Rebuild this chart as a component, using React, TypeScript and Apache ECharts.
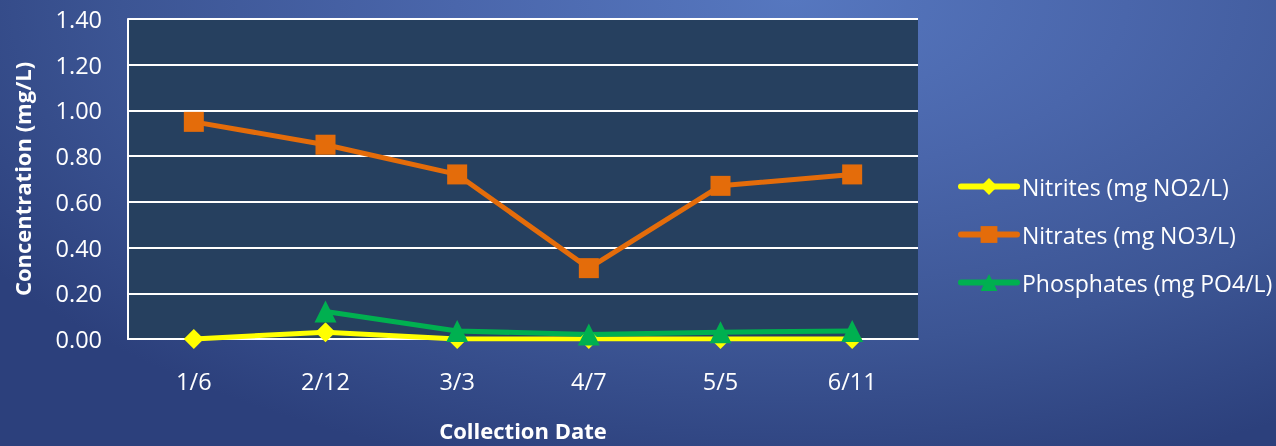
import React, { useEffect, useRef } from "react";
import * as echarts from "echarts";

const categories = ["1/6", "2/12", "3/3", "4/7", "5/5", "6/11"];
const nitrites = [0.0, 0.03, 0.0, 0.0, 0.0, 0.0];
const nitrates = [0.95, 0.85, 0.72, 0.31, 0.67, 0.72];
const phosphates: (number | null)[] = [null, 0.12, 0.035, 0.02, 0.03, 0.035];
const seriesNames = ["Nitrites (mg NO2/L)", "Nitrates (mg NO3/L)", "Phosphates (mg PO4/L)"];

const FONT = "'Open Sans', Lato, sans-serif";

export default function App() {
  const ref = useRef<HTMLDivElement>(null);
  useEffect(() => {
    if (!ref.current) return;
    const chart = echarts.init(ref.current, undefined, { renderer: "svg" });
    chart.setOption({
      animation: false,
      textStyle: { fontFamily: FONT },
      grid: {
        left: 128,
        top: 19,
        width: 790,
        height: 320,
        show: true,
        backgroundColor: "#26405f",
        borderWidth: 0,
        containLabel: false,
        outerBoundsMode: "none",
      },
      legend: {
        orient: "vertical",
        left: 958,
        top: 175,
        padding: 0,
        itemWidth: 56,
        itemHeight: 21,
        itemGap: 25,
        lineStyle: { width: 6, cap: "round" },
        textStyle: { color: "#ffffff", fontSize: 23, fontFamily: FONT, padding: [0, 0, 0, 0] },
        data: seriesNames,
      },
      xAxis: {
        type: "category",
        data: categories,
        boundaryGap: true,
        name: "Collection Date",
        nameLocation: "middle",
        nameGap: 80,
        nameMoveOverlap: false,
        nameTextStyle: { color: "#ffffff", fontSize: 22, fontWeight: "bold", fontFamily: FONT },
        axisLine: { show: true, lineStyle: { color: "#ffffff", width: 2 } },
        axisTick: { show: false },
        axisLabel: { color: "#ffffff", fontSize: 23.5, margin: 30, fontFamily: FONT },
        splitLine: { show: false },
      },
      yAxis: {
        type: "value",
        min: 0,
        max: 1.4,
        interval: 0.2,
        name: "Concentration (mg/L)",
        nameLocation: "middle",
        nameGap: 95,
        nameMoveOverlap: false,
        nameTextStyle: { color: "#ffffff", fontSize: 22, fontWeight: "bold", fontFamily: FONT },
        axisLine: { show: true, lineStyle: { color: "#ffffff", width: 2 } },
        axisTick: { show: false },
        axisLabel: {
          color: "#ffffff",
          fontSize: 23.5,
          margin: 26,
          fontFamily: FONT,
          formatter: (v: number) => v.toFixed(2),
        },
        splitLine: { show: true, lineStyle: { color: "#ffffff", width: 2 } },
      },
      series: [
        {
          name: seriesNames[0],
          type: "line",
          data: nitrites,
          symbol: "diamond",
          symbolSize: 20,
          lineStyle: { color: "#ffff00", width: 5 },
          itemStyle: { color: "#ffff00" },
        },
        {
          name: seriesNames[1],
          type: "line",
          data: nitrates,
          symbol: "rect",
          symbolSize: 20,
          lineStyle: { color: "#e46c0a", width: 5 },
          itemStyle: { color: "#e46c0a" },
        },
        {
          name: seriesNames[2],
          type: "line",
          data: phosphates,
          symbol: "triangle",
          symbolSize: 22,
          connectNulls: false,
          lineStyle: { color: "#00b050", width: 5 },
          itemStyle: { color: "#00b050" },
        },
      ],
    });
    return () => chart.dispose();
  }, []);
  return (
    <div
      style={{
        position: "fixed",
        left: 0,
        top: 0,
        width: 1276,
        height: 446,
        background:
          "radial-gradient(ellipse 75% 110% at 62% 0%, #5677bf 0%, #4a66ab 35%, #3c5594 70%, #2c407c 100%)",
      }}
    >
      <div ref={ref} style={{ width: 1276, height: 446 }} />
    </div>
  );
}
